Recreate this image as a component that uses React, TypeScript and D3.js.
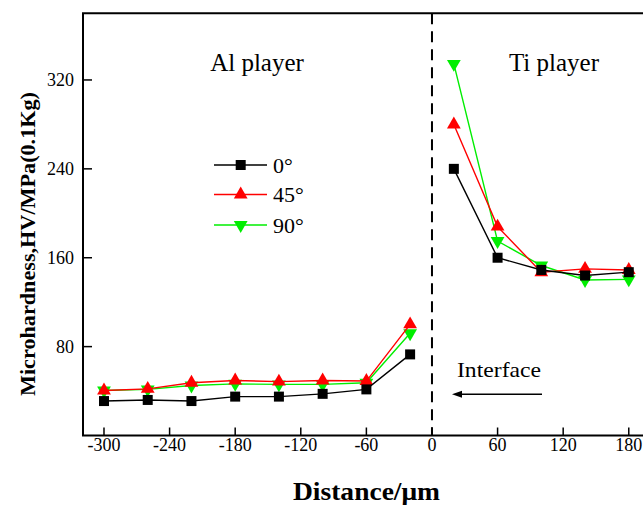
import React from "react";
import * as d3 from "d3";

const alDistances = [-300, -260, -220, -180, -140, -100, -60, -20];
const tiDistances = [20, 60, 100, 140, 180];
const deg0Al = [31, 32, 31, 35, 35, 37.5, 41.5, 73];
const deg45Al = [40.5, 42, 47.5, 49.5, 48.5, 49.5, 49, 100];
const deg90Al = [40.5, 41.5, 45, 46.5, 46, 46, 47.5, 92];
const deg0Ti = [240, 160, 149, 144, 147];
const deg45Ti = [280, 188, 147, 150, 149];
const deg90Ti = [334.5, 175, 153, 140, 140.5];
const xTicks = [-300, -240, -180, -120, -60, 0, 60, 120, 180];
const yTicks = [80, 160, 240, 320];
const seriesNames = ["0°", "45°", "90°"];

const W = 643;
const H = 506;
const left = 83;
const top = 13.3;
const bottom = 435.5;

const x = d3.scaleLinear().domain([-319.2, 220]).range([left, left + 539.2 * 1.0933]);
const y = d3.scaleLinear().domain([0, 380]).range([bottom, top]);

const serif = "'Liberation Serif', 'Times New Roman', serif";

type Series = { name: string; color: string; al: number[]; ti: number[]; shape: "square" | "up" | "down" };
const series: Series[] = [
  { name: seriesNames[0], color: "#000000", al: deg0Al, ti: deg0Ti, shape: "square" },
  { name: seriesNames[1], color: "#ff0000", al: deg45Al, ti: deg45Ti, shape: "up" },
  { name: seriesNames[2], color: "#00ee00", al: deg90Al, ti: deg90Ti, shape: "down" },
];

const squarePath = d3.symbol().type(d3.symbolSquare).size(100)()!;
const triPath = d3.symbol().type(d3.symbolTriangle).size(82)()!;

function Marker({ shape, color, cx, cy }: { shape: string; color: string; cx: number; cy: number }) {
  if (shape === "square") return <path d={squarePath} fill={color} transform={`translate(${cx},${cy})`} />;
  if (shape === "up") return <path d={triPath} fill={color} transform={`translate(${cx},${cy})`} />;
  return <path d={triPath} fill={color} transform={`translate(${cx},${cy}) rotate(180)`} />;
}

export default function App() {
  const line = d3
    .line<[number, number]>()
    .x((d) => x(d[0]))
    .y((d) => y(d[1]));
  const drawOrder = [series[2], series[1], series[0]];
  const legendRows = [165, 194.5, 225];
  return (
    <svg
      width={W}
      height={H}
      style={{ position: "absolute", left: 0, top: 0, background: "#fff" }}
      fontFamily={serif}
    >
      <rect width={W} height={H} fill="#fff" />
      {/* interface dashed line */}
      <line x1={x(0)} x2={x(0)} y1={top} y2={bottom} stroke="#000" strokeWidth={2} strokeDasharray="11,7" />
      {/* series */}
      {drawOrder.map((s) => (
        <g key={s.name}>
          <path d={line(alDistances.map((d, i) => [d, s.al[i]]))!} fill="none" stroke={s.color} strokeWidth={1.4} />
          <path d={line(tiDistances.map((d, i) => [d, s.ti[i]]))!} fill="none" stroke={s.color} strokeWidth={1.4} />
          {alDistances.map((d, i) => (
            <Marker key={"a" + i} shape={s.shape} color={s.color} cx={x(d)} cy={y(s.al[i])} />
          ))}
          {tiDistances.map((d, i) => (
            <Marker key={"t" + i} shape={s.shape} color={s.color} cx={x(d)} cy={y(s.ti[i])} />
          ))}
        </g>
      ))}
      {/* frame */}
      <line x1={left} x2={left} y1={top} y2={bottom} stroke="#000" strokeWidth={2} />
      <line x1={left - 1} x2={W} y1={top} y2={top} stroke="#000" strokeWidth={2} />
      <line x1={left - 1} x2={W} y1={bottom} y2={bottom} stroke="#000" strokeWidth={2} />
      {/* x ticks */}
      {xTicks.map((t) => (
        <g key={t}>
          <line x1={x(t)} x2={x(t)} y1={bottom} y2={bottom - 8} stroke="#000" strokeWidth={1.5} />
          <text x={x(t)} y={451} fontSize={18} textAnchor="middle" fill="#000">
            {t}
          </text>
        </g>
      ))}
      {/* y ticks */}
      {yTicks.map((t) => (
        <g key={t}>
          <line x1={left} x2={left + 9} y1={y(t)} y2={y(t)} stroke="#000" strokeWidth={1.5} />
          <text x={74} y={y(t)} dy="0.35em" fontSize={18} textAnchor="end" fill="#000">
            {t}
          </text>
        </g>
      ))}
      {/* axis titles */}
      <text
        x={366.5}
        y={500}
        fontSize={25}
        fontWeight="bold"
        textAnchor="middle"
        fill="#000"
        textLength={147}
        lengthAdjust="spacingAndGlyphs"
      >
        Distance/μm
      </text>
      <text
        transform="translate(35,244) rotate(-90)"
        fontSize={21}
        fontWeight="bold"
        textAnchor="middle"
        fill="#000"
        textLength={304}
        lengthAdjust="spacingAndGlyphs"
      >
        Microhardness,HV/MPa(0.1Kg)
      </text>
      {/* region labels */}
      <text x={257} y={71} fontSize={25} textAnchor="middle" fill="#000">
        Al player
      </text>
      <text x={554} y={71} fontSize={25} textAnchor="middle" fill="#000">
        Ti player
      </text>
      <text
        x={499}
        y={377}
        fontSize={22}
        textAnchor="middle"
        fill="#000"
        textLength={84}
        lengthAdjust="spacingAndGlyphs"
      >
        Interface
      </text>
      <line x1={542} x2={460} y1={394.3} y2={394.3} stroke="#000" strokeWidth={1.5} />
      <path d="M452,394.3 L462,390.8 L462,397.8 Z" fill="#000" />
      {/* legend */}
      {series.map((s, i) => (
        <g key={s.name}>
          <line x1={214} x2={267} y1={legendRows[i]} y2={legendRows[i]} stroke={s.color} strokeWidth={1.4} />
          <Marker shape={s.shape} color={s.color} cx={240.7} cy={legendRows[i]} />
          <text x={273} y={legendRows[i]} dy="0.35em" fontSize={22} fill="#000">
            {s.name}
          </text>
        </g>
      ))}
    </svg>
  );
}
